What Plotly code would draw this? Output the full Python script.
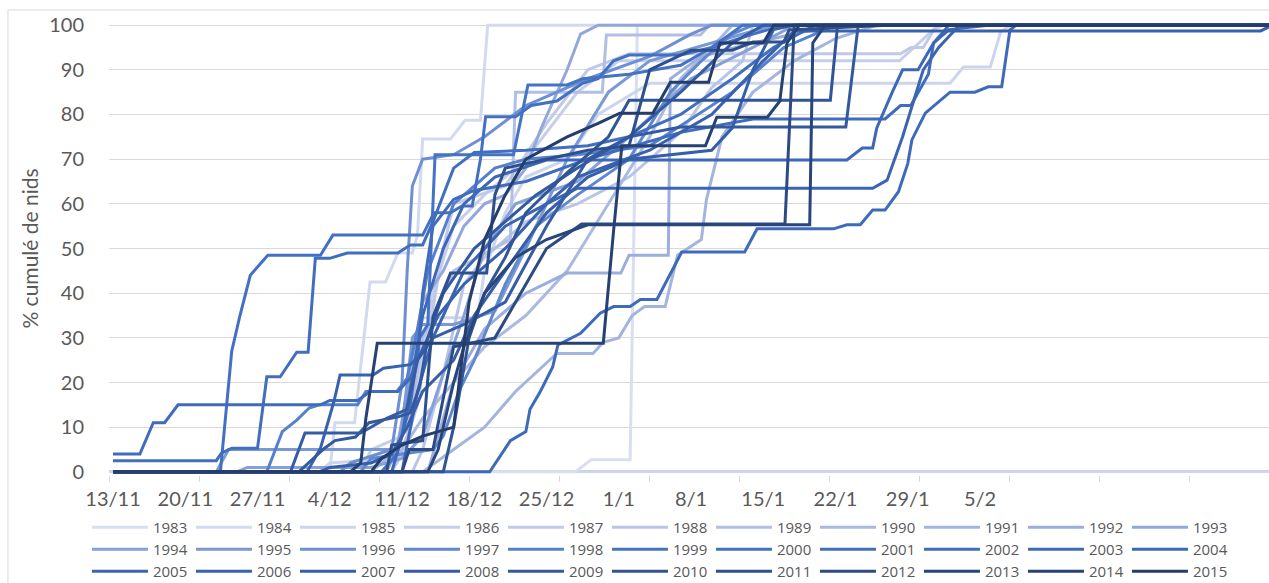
import plotly.graph_objects as go

# x tick labels (one every 7 days, day 0 = 13/11)
tick_days = [0, 7, 14, 21, 28, 35, 42, 49, 56, 63, 70, 77, 84]
tick_labels = ["13/11", "20/11", "27/11", "4/12", "11/12", "18/12", "25/12",
               "1/1", "8/1", "15/1", "22/1", "29/1", "5/2"]

# cumulative % of nests per season: (day since 13/11, %)
y1983 = [(0,0),(44.8,0),(46.3,2.7),(50.1,2.7),(50.8,100),(112.5,100)]
y1984 = [(0,0),(21,0),(21.5,11),(23.4,11),(24.9,42.5),(26.4,42.5),(27.6,49),(29,49),(29.5,53),(30,74.5),(32.7,74.5),(34.1,78.7),(35.6,78.7),(36.3,100),(112.5,100)]
y1985 = [(0,0),(20,0),(21,2),(27,3),(28,10),(29,25),(30,34.5),(35.3,34.5),(36,45),(38,58),(40,66),(44,70),(47,80),(52,87),(81.1,87),(82.4,90.6),(85,90.6),(86,98.5),(87,100),(112.5,100)]
y1986 = [(0,0),(24,0),(25,5),(28,8),(29.5,20),(31,40),(33,55),(36,62),(40,70),(45,85),(49,92),(76.2,92),(79.5,99),(80.5,100),(112.5,100)]
y1987 = [(0,0),(27,0),(28,4),(29.5,15),(30.5,30),(32,50),(33,60),(38,64),(42,78),(46,90),(50,93.6),(76.3,93.6),(77.3,95),(78.5,95),(79.8,100),(112.5,100)]
y1988 = [(0,0),(29,0),(30,5),(32,22),(34,42),(36,48),(38,52),(40,56),(45,60),(50,66),(55,76),(58,86),(61,92),(62,100),(112.5,100)]
y1989 = [(0,0),(27,0),(28.5,8),(30,30),(33,45),(38.5,52),(39,85),(47.4,85),(47.8,97.8),(56.9,97.8),(57.8,100),(112.5,100)]
y1990 = [(0,0),(25,0),(26,2),(28,5),(30,12),(33,20),(36,28),(40,35),(44,45),(48,60),(52,75),(55,88),(58,95),(60,100),(112.5,100)]
y1991 = [(0,0),(30,0),(33,5),(36,10),(39,18),(43,26.5),(46.5,26.5),(47.5,29),(49,30),(50.3,35),(51.5,37),(53.5,37),(54.7,48.5),(57,52),(57.5,61),(59,75),(62,85),(66,92),(70,97),(74,100),(112.5,100)]
y1992 = [(0,0),(30.5,0),(31.5,8),(33,20),(36,32),(40,40),(44,44.5),(49.2,44.5),(50,48.5),(53.8,48.5),(54,88),(57,93),(62,96),(68,99),(72,100),(112.5,100)]
y1993 = [(0,0),(26.5,0),(27.5,5),(29,25),(30,38),(32,45),(34,55),(36,60),(38,62),(40,68),(41.5,77),(44,90),(45.3,98),(47,100),(112.5,100)]
y1994 = [(0,0),(12,0),(13,1),(25,1),(28,3),(30,8),(32,22),(34,35),(36,50),(39,60),(45,65),(50,75),(56,88),(62,95),(66,100),(112.5,100)]
y1995 = [(0,0),(10,0),(11.2,5),(27.5,5),(28,10),(29,30),(30,33),(33,33),(37,36),(40,50),(44,70),(48,85),(52,92),(58,96),(64,100),(112.5,100)]
y1996 = [(0,0),(22,0),(23,2),(27,5),(28,20),(28.5,45),(29,64),(30,70),(33,71),(36,75),(40,82),(46,88),(52,93),(56,98),(58,100),(112.5,100)]
y1997 = [(0,0),(24,0),(25,3),(31,5),(32,8),(33.5,18),(35,25),(38,42),(41,55),(45,62),(50,70),(54,85),(57,92),(60,98),(62,100),(112.5,100)]
y1998 = [(0,0),(14.9,0),(16.4,9),(17.8,11.6),(19,14.3),(20,15),(23.7,15),(24.5,18),(27.5,18),(28.5,21),(29.5,32),(30.5,45),(33,60),(37,68),(40,70),(45,71),(52,73),(60,85),(65,95),(70,100),(112.5,100)]
y1999 = [(0,0),(26,0),(27.5,4),(28.8,15),(29.7,30),(30.5,33),(31.2,71),(38.8,71),(40.2,86.6),(44,86.6),(45.5,88),(50,89),(55,91),(58,95),(61,100),(112.5,100)]
y2000 = [(0,0),(10.4,0),(11.5,27),(12.3,35),(13.3,44),(15,48.5),(20.1,48.5),(21.3,53),(30,53),(31.1,58),(32.7,58),(33.8,59.5),(34.8,59.5),(35.6,70),(36.1,79.5),(39,79.5),(40.5,82),(43,83),(45.5,87),(47,88),(48.5,92),(50,93.3),(55,93.3),(58,95),(62,98),(65,100),(112.5,100)]
y2001 = [(0,2.5),(10,2.5),(10.5,4.2),(11.5,5.3),(14,5.3),(14.9,21.3),(16.2,21.3),(17.8,26.8),(18.9,26.8),(19.6,47.8),(21,47.8),(22.7,49),(27.6,49),(28.8,50.8),(30,50.8),(31,56),(33,68),(35,71.5),(40,72),(46,73),(50,75),(55,80),(60,88),(64,95),(68,100),(112.5,100)]
y2002 = [(0,4),(2.6,4),(3.9,11),(5,11),(6.3,15),(20.1,15),(21,16),(23.7,16),(24.9,18),(27.6,18),(28.8,21),(29.5,25),(30,40),(31,55),(33,61),(35,63),(40,65),(46,70),(55,76),(62,79),(74.8,79),(76.3,82),(77.3,82),(79,89),(79.5,96),(81,100),(112.5,100)]
y2003 = [(0,0),(36.5,0),(38.5,7),(40,9),(40.4,14),(41.4,18),(42.6,23.5),(43.1,28.4),(45.3,31),(47.2,35.5),(48.5,37),(50.1,37),(51.1,38.6),(52.7,38.6),(53.7,43),(55.1,49.2),(61.2,49.2),(62.4,54.4),(69.8,54.4),(71.1,55.3),(72.4,55.3),(73.6,58.6),(74.8,58.6),(76.1,62.7),(77,69),(77.4,74.3),(78.7,80.3),(81.1,85),(83.5,85),(84.8,86.2),(86.1,86.2),(86.9,98.9),(87.5,100),(112.5,100)]
y2004 = [(0,0),(27,0),(28,8),(29,22),(30,35),(32,50),(34,60),(37,66),(42,69.8),(71.1,69.8),(72.6,72.5),(73.6,72.5),(74,77),(75.5,85),(76.5,90),(78,90),(79.5,96),(81,99),(85,100),(112.5,100)]
y2005 = [(0,0),(28,0),(28.5,6),(29.5,18),(31,30),(34,45),(38,55),(42,60),(45,63.5),(73.6,63.5),(75,65.3),(76.5,75),(78.5,90),(80,95),(82,100),(112.5,100)]
y2006 = [(0,0),(18.8,0),(20.1,5.3),(21.4,15.7),(22,21.7),(25.2,21.7),(26.2,23.2),(28.8,24),(29.7,26),(31.5,35),(34,42),(38,50),(42,60),(45,66),(52,72),(58,80),(63,92),(66,98.7),(111.2,98.7),(112.3,100),(112.5,100)]
y2007 = [(0,0),(20,0),(21,1),(25,2),(27,4),(28.5,10),(30,18),(33,25),(35,35),(38,45),(42,58),(46,66),(50,70),(58,72),(60,77),(62,90),(64,99),(66,100),(112.5,100)]
y2008 = [(0,0),(17.2,0),(18.6,8.7),(24,8.7),(26.5,12),(28.5,14),(29.5,25),(31,30),(34,33),(38,38),(42,55),(46,70),(50,75),(55,85),(60,96),(63,100),(112.5,100)]
y2009 = [(0,0),(18,0),(20.5,5.3),(21.5,7),(23.5,7.8),(24.8,11),(27.6,12.3),(28.8,13.2),(29.7,19),(30.5,30),(32,40),(35,50),(38,56),(41,62),(45,68),(50,75),(55,77.2),(71,77.2),(72.2,100),(112.5,100)]
y2010 = [(0,0),(32,0),(33,10),(34.5,30),(36,40),(38,48),(40,58),(44,67),(48,75),(50,83.2),(69.5,83.2),(70.2,100),(112.5,100)]
y2011 = [(0,0),(26.5,0),(27,6),(30,7),(31,34.7),(32.7,44.5),(36.2,44.5),(37,62),(38,68),(42,70),(46,72),(50,73),(52,90),(56,94.4),(60,94.4),(62,96.2),(65,96.2),(65.5,98.9),(70,99.5),(75,100),(112.5,100)]
y2012 = [(0,0),(28,0),(28.7,5),(31,5),(33,28),(37,30),(42,50),(45.4,55.5),(65.1,55.5),(66,100),(112.5,100)]
y2013 = [(0,0),(30.5,0),(31.5,5),(33,20),(34,28),(36,40),(39,48),(42,52),(46,55.3),(67.5,55.3),(67.8,96),(69,100),(112.5,100)]
y2014 = [(0,0),(23,0),(24,2),(24.5,12),(25.6,28.8),(47.5,28.8),(48.5,54),(49.3,73),(57.4,73),(58.5,79.4),(63.4,79.4),(64.6,83),(65.3,96),(66.5,100),(112.5,100)]
y2015 = [(0,0),(25,0),(26,3),(28,6),(30,8),(33,10),(34.5,38),(36,52),(38,62),(40,70),(44,75),(47,78),(49.1,80.3),(52.3,80.3),(54,87.2),(57.7,87.2),(58.8,96),(63,96),(64,100),(112.5,100)]

years = list(range(1983, 2016))
series = [y1983, y1984, y1985, y1986, y1987, y1988, y1989, y1990, y1991, y1992, y1993,
          y1994, y1995, y1996, y1997, y1998, y1999, y2000, y2001, y2002, y2003, y2004,
          y2005, y2006, y2007, y2008, y2009, y2010, y2011, y2012, y2013, y2014, y2015]

# monochromatic blue palette (light -> dark)
anchors = [(0, "#D9DFF1"), (5, "#BAC5E6"), (10, "#93A8DA"), (15, "#5580CC"),
           (16, "#4472C4"), (21, "#3D68B8"), (26, "#33599F"), (32, "#243D6B")]

def hex2rgb(h):
    return tuple(int(h[i:i + 2], 16) for i in (1, 3, 5))

def color_for(i):
    for (a, ca), (b, cb) in zip(anchors[:-1], anchors[1:]):
        if a <= i <= b:
            t = (i - a) / (b - a) if b > a else 0
            ra, rb = hex2rgb(ca), hex2rgb(cb)
            return "rgb(%d,%d,%d)" % tuple(round(x + (y - x) * t) for x, y in zip(ra, rb))
    return anchors[-1][1]

FONT = "Lato, 'Open Sans', sans-serif"
LEG_NAMES = ["legend", "legend2", "legend3"]
fig = go.Figure()
for i, (yr, pts) in enumerate(zip(years, series)):
    fig.add_trace(go.Scatter(
        x=[p[0] for p in pts], y=[p[1] for p in pts], mode="lines", name=str(yr),
        line=dict(color=color_for(i), width=3), legend=LEG_NAMES[i // 11]))

def leg(ypos):
    return dict(orientation="h", x=-0.019, y=ypos, xanchor="left", yanchor="bottom",
                font=dict(family="'Open Sans', Lato, sans-serif", size=15, color="#595959"),
                itemwidth=56, entrywidth=33, entrywidthmode="pixels", traceorder="normal",
                bgcolor="rgba(0,0,0,0)", borderwidth=0)

fig.update_layout(
    width=1269, height=600,
    margin=dict(l=109, r=0, t=22, b=125),
    paper_bgcolor="white", plot_bgcolor="white",
    font=dict(family=FONT, color="#595959"),
    showlegend=True,
    legend=leg(-0.1523), legend2=leg(-0.2009), legend3=leg(-0.2494),
    xaxis=dict(range=[-0.39, 112], tickmode="array", tickvals=tick_days, ticktext=tick_labels,
               showgrid=False, zeroline=False, showline=False, ticks="",
               tickfont=dict(size=20, color="#595959"), ticklabelstandoff=10,
               minor=dict(tickmode="linear", tick0=-0.39, dtick=8.72, ticks="outside",
                          ticklen=6, tickcolor="#D9D9D9", tickwidth=1, showgrid=False)),
    yaxis=dict(range=[-0.7, 100.7], tickmode="array", tickvals=list(range(0, 101, 10)),
               showgrid=True, gridcolor="#D9D9D9", gridwidth=1,
               zeroline=True, zerolinecolor="#CDD3EA", zerolinewidth=3,
               showline=False, ticks="", tickfont=dict(size=20, color="#595959"),
               ticklabelstandoff=24,
               title=dict(text="% cumulé de nids", font=dict(size=21, color="#595959"), standoff=4)),
    shapes=[dict(type="rect", xref="paper", yref="paper", x0=-0.0871, x1=1.2, y0=-0.4, y1=1.0265,
                 line=dict(color="#D9D9D9", width=1), fillcolor="rgba(0,0,0,0)", layer="below")],
)

fig.write_html("out.html", config={"displayModeBar": False},
               post_script="document.body.style.margin='0px';"
                           "document.body.style.overflow='hidden';"
                           "document.documentElement.style.overflow='hidden';")
